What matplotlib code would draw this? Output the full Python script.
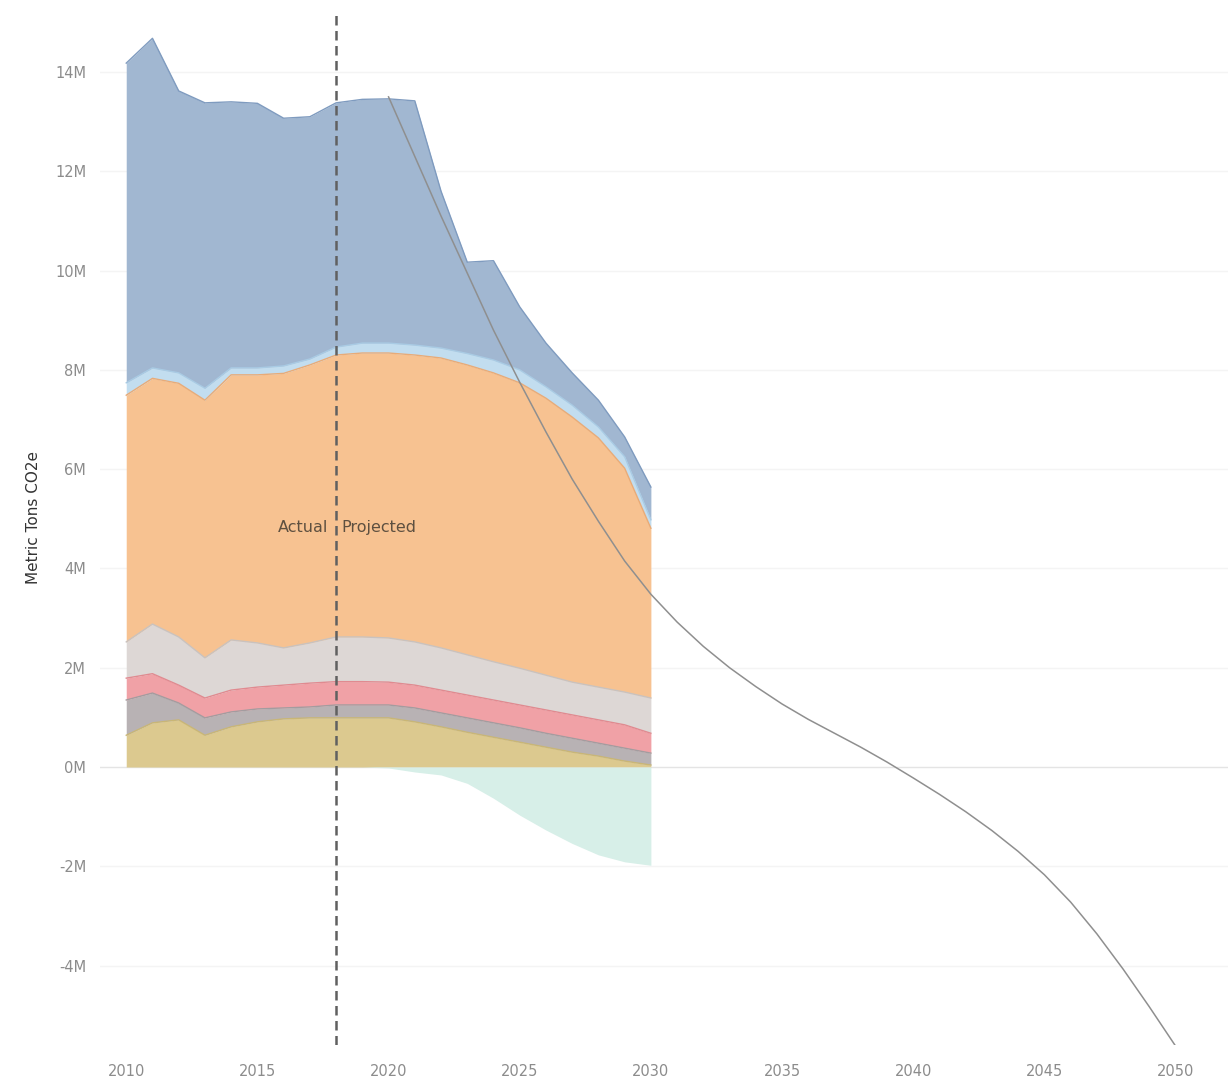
import numpy as np
import matplotlib.pyplot as plt
from matplotlib.ticker import FuncFormatter

years = list(range(2010, 2031))

# stacked layers, million t CO2e (bottom to top)
gold = [0.64, 0.89, 0.95, 0.64, 0.81, 0.91, 0.97, 0.99, 0.99, 0.99, 0.99,
        0.91, 0.81, 0.70, 0.60, 0.50, 0.40, 0.30, 0.22, 0.12, 0.04]
gray = [0.71, 0.60, 0.34, 0.35, 0.30, 0.26, 0.22, 0.22, 0.26, 0.26, 0.26,
        0.28, 0.28, 0.29, 0.29, 0.29, 0.28, 0.28, 0.26, 0.26, 0.24]
pink = [0.44, 0.39, 0.36, 0.40, 0.44, 0.44, 0.46, 0.48, 0.47, 0.47, 0.46,
        0.46, 0.46, 0.46, 0.46, 0.46, 0.47, 0.47, 0.47, 0.47, 0.40]
lgray = [0.73, 1.00, 0.97, 0.81, 1.01, 0.89, 0.75, 0.81, 0.90, 0.90, 0.89,
         0.87, 0.85, 0.81, 0.77, 0.74, 0.70, 0.66, 0.66, 0.66, 0.71]
orange = [4.97, 4.95, 5.11, 5.19, 5.34, 5.40, 5.53, 5.60, 5.68, 5.72, 5.74,
          5.78, 5.84, 5.84, 5.82, 5.75, 5.58, 5.34, 5.02, 4.51, 3.42]
lblue = [0.25, 0.21, 0.21, 0.24, 0.14, 0.14, 0.15, 0.12, 0.16, 0.20, 0.20,
         0.20, 0.20, 0.23, 0.26, 0.26, 0.23, 0.24, 0.22, 0.23, 0.17]
blue = [6.44, 6.64, 5.68, 5.75, 5.36, 5.33, 4.99, 4.88, 4.92, 4.91, 4.92,
        4.92, 3.16, 1.84, 2.00, 1.27, 0.88, 0.65, 0.54, 0.40, 0.66]

# negative (sequestration) layer
teal = [0, 0, 0, 0, 0, 0, 0, 0, 0, 0, -0.02,
        -0.10, -0.16, -0.33, -0.63, -0.97, -1.27, -1.54, -1.77, -1.91, -1.98]

# target trajectory
target_years = list(range(2020, 2051))
target = [13.5, 12.3, 11.1, 9.95, 8.8, 7.75, 6.75, 5.8, 4.95, 4.15, 3.48,
          2.92, 2.43, 2.0, 1.62, 1.27, 0.96, 0.68, 0.4, 0.1, -0.22,
          -0.55, -0.9, -1.28, -1.7, -2.17, -2.72, -3.36, -4.07, -4.83, -5.62]

layers = [gold, gray, pink, lgray, orange, lblue, blue]
fills = ['#dcc98f', '#b8b2b4', '#f0a1a6', '#ddd7d5', '#f7c291', '#c2ddef', '#a1b7d1']
edges = ['#c9b676', '#a39c9f', '#e08a90', '#c9c2bf', '#e8ab78', '#a9cbe4', '#7f9bbf']

fig = plt.figure(figsize=(12.3, 10.81), dpi=100)
ax = fig.add_axes([100 / 1230, 36 / 1081, 1128 / 1230, 1035 / 1081])

yrs = np.array(years)
base = np.zeros(len(yrs))
for vals, fc, ec in zip(layers, fills, edges):
    top = base + np.array(vals)
    ax.fill_between(yrs, base, top, color=fc, lw=0, zorder=2)
    ax.plot(yrs, top, color=ec, lw=1.0, zorder=3)
    base = top

ax.fill_between(yrs, 0, teal, color='#d7efe8', lw=0, zorder=2)

ax.plot(target_years, target, color='#8f8f8f', lw=1.1, zorder=4)

ax.axvline(2018, color='#606060', lw=1.8, ls=(0, (3.8, 2.2)), zorder=5)
ax.text(2017.7, 4.83, 'Actual', ha='right', va='center', fontsize=11.5, color='#5e5040', zorder=6)
ax.text(2018.2, 4.83, 'Projected', ha='left', va='center', fontsize=11.5, color='#5e5040', zorder=6)

ax.set_xlim(2009, 2052)
ax.set_ylim(-5.6, 15.25)
ax.set_xticks(range(2010, 2051, 5))
ax.set_yticks(range(-4, 15, 2))
ax.yaxis.set_major_formatter(FuncFormatter(lambda v, p: f'{int(v)}M'))

for t in range(-4, 15, 2):
    ax.axhline(t, color='#e4e4e4' if t == 0 else '#f4f4f4', lw=1, zorder=1)

for s in ax.spines.values():
    s.set_visible(False)
ax.tick_params(length=0, colors='#8c8c8c', labelsize=10.5)
ax.tick_params(axis='x', pad=14)
ax.tick_params(axis='y', pad=10)

ax.set_ylabel('Metric Tons CO2e', fontsize=11, color='#333333')
ax.yaxis.set_label_coords(-0.052, 0.51)

fig.savefig('out.png', dpi=100)
